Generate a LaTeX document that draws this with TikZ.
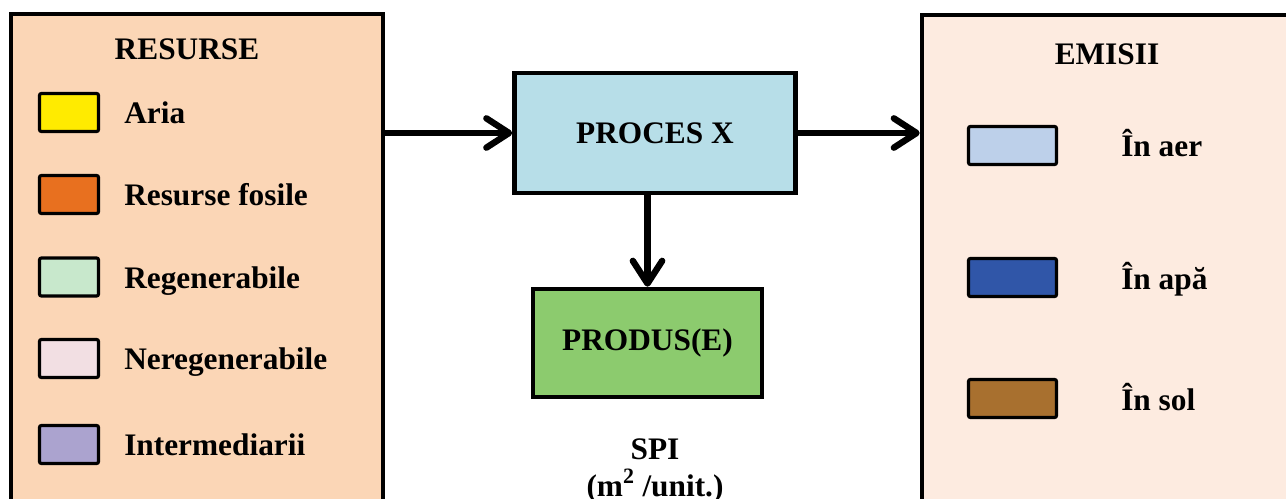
\documentclass[tikz,border=0pt]{standalone}
\usepackage{fontspec}
\setmainfont{Liberation Serif}
\usetikzlibrary{arrows.meta}

\definecolor{resfill}{HTML}{FBD6B6}
\definecolor{emfill}{HTML}{FDEBE0}
\definecolor{procfill}{HTML}{B7DEE8}
\definecolor{prodfill}{HTML}{8CCB6E}
\definecolor{ariacol}{HTML}{FFEB00}
\definecolor{fosilcol}{HTML}{E8701F}
\definecolor{regencol}{HTML}{C8E8CC}
\definecolor{neregcol}{HTML}{F2DFE3}
\definecolor{intercol}{HTML}{ABA3CF}
\definecolor{aercol}{HTML}{BDD0EA}
\definecolor{apacol}{HTML}{3056A8}
\definecolor{solcol}{HTML}{A8702F}

\tikzset{
  bigbox/.style={draw, line width=3.4pt, inner sep=0pt},
  swatch/.style={draw, line width=2.4pt, rounded corners=1.5pt, inner sep=0pt,
    minimum height=28.5pt},
  arr/.style={line width=4.8pt, -{Straight Barb[length=17pt, width=22pt, round]}},
}

\begin{document}
\begin{tikzpicture}[x=0.75pt, y=-0.75pt,
    every node/.style={font=\bfseries\fontsize{23.5}{27.75}\selectfont}]
  \useasboundingbox (0,0) rectangle (1286,499);
  \clip (0,0) rectangle (1286,499);

  % Draw the two big boxes
  \node[bigbox, fill=resfill, minimum width=279pt, minimum height=379.5pt] (resurse) at (197,267) {};
  \node[bigbox, fill=emfill, minimum width=298.5pt, minimum height=378.75pt] (emisii) at (1121,267.5) {};

  \node[anchor=base] (restitle) at (187,60) {RESURSE};
  \node[anchor=base] (emtitle) at (1107,65) {EMISII};

  % Draw the resource legend
  \foreach \yy/\col/\txt [count=\i] in {112.5/ariacol/Aria, 194.5/fosilcol/Resurse fosile,
      277/regencol/Regenerabile, 358.5/neregcol/Neregenerabile, 444.5/intercol/Intermediarii}
  {
    \node[swatch, fill=\col, minimum width=44.25pt] (res\i) at (69,\yy) {};
    \node[anchor=base west, inner sep=0pt] (reslbl\i) at (124,\yy+11) {\txt};
  }

  % Draw the emission legend
  \foreach \yy/\col/\txt [count=\i] in {145.5/aercol/În aer, 277.5/apacol/În apă, 398.5/solcol/În sol}
  {
    \node[swatch, fill=\col, minimum width=66pt] (em\i) at (1012.5,\yy) {};
    \node[anchor=base west, inner sep=0pt] (emlbl\i) at (1121,\yy+11.5) {\txt};
  }

  % Draw the process and the product
  \node[bigbox, fill=procfill, minimum width=210.75pt, minimum height=90pt] (proces) at (655,133) {PROCES X};
  \node[bigbox, fill=prodfill, minimum width=171.75pt, minimum height=81pt] (produs) at (647.5,343) {PRODUS(E)};

  \node[anchor=north, inner sep=0pt, align=center] (spi) at (655,438) {SPI\\(m\textsuperscript{2} /unit.)};

  % Draw the arrows
  \draw[arr] (resurse.east |- proces.west) -- (proces.west);
  \draw[arr] (proces.east) -- (proces.east -| emisii.west);
  \draw[arr] (produs.north |- proces.south) -- (produs.north);
\end{tikzpicture}
\end{document}
